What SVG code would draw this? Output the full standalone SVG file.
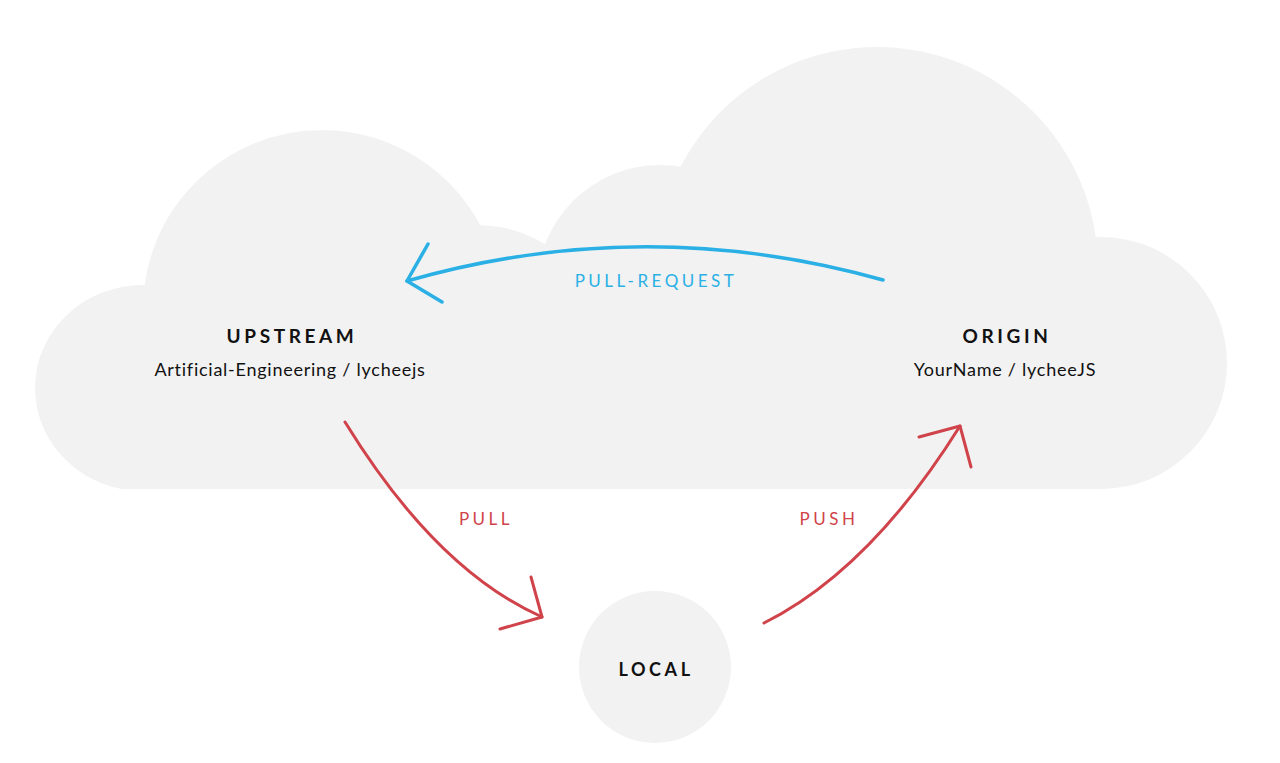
<svg xmlns="http://www.w3.org/2000/svg" width="1280" height="763" viewBox="0 0 1280 763">
<defs>
<style>
.cloud{fill:#f2f2f2}
.title{font-family:Lato,"Liberation Sans",sans-serif;font-weight:bold;font-size:19px;letter-spacing:3.6px;fill:#111;text-anchor:middle}
.sub{font-family:Lato,"Liberation Sans",sans-serif;font-size:18px;letter-spacing:0.75px;fill:#111;text-anchor:middle}
.lbl{font-family:Lato,"Liberation Sans",sans-serif;font-size:17px;letter-spacing:3.5px;text-anchor:middle}
.red{fill:none;stroke:#d0434a;stroke-width:3;stroke-linecap:round;stroke-linejoin:round}
.blue{fill:none;stroke:#2bb0e6;stroke-width:3.5;stroke-linecap:round;stroke-linejoin:round}
</style>
<clipPath id="cl"><rect x="0" y="0" width="1280" height="489"/></clipPath>
</defs>
<rect width="1280" height="763" fill="#fff"/>
<g id="cloud" class="cloud" clip-path="url(#cl)">
<ellipse cx="143" cy="388" rx="108" ry="103"/>
<circle cx="322" cy="309" r="179"/>
<circle cx="477" cy="356" r="131"/>
<circle cx="660" cy="288" r="123"/>
<circle cx="877" cy="268" r="221"/>
<circle cx="1101" cy="363" r="126"/>
<rect x="142" y="300" width="959" height="189"/>
</g>
<g id="upstream">
<text class="title" x="292" y="343">UPSTREAM</text>
<text class="sub" x="290" y="376">Artificial-Engineering / lycheejs</text>
</g>
<g id="origin">
<text class="title" x="1007" y="343">ORIGIN</text>
<text class="sub" x="1005" y="376">YourName / lycheeJS</text>
</g>
<g id="local">
<circle class="cloud" cx="655" cy="667" r="76"/>
<text class="title" x="656" y="676" style="font-size:18px">LOCAL</text>
</g>
<g id="connectors">
<path class="blue" d="M883,280 Q645,213 407,281"/>
<path class="blue" d="M428,244 L407,281 L442,302"/>
<text class="lbl" x="656" y="287" fill="#2bb0e6">PULL-REQUEST</text>
<path class="red" d="M345,422 Q436,570 542,617"/>
<path class="red" d="M531,577 L542,617 L500,629"/>
<text class="lbl" x="486" y="525" fill="#d0434a">PULL</text>
<path class="red" d="M764,623 Q870,570 960,426"/>
<path class="red" d="M919,437 L960,426 L971,467"/>
<text class="lbl" x="829" y="525" fill="#d0434a">PUSH</text>
</g>
</svg>
